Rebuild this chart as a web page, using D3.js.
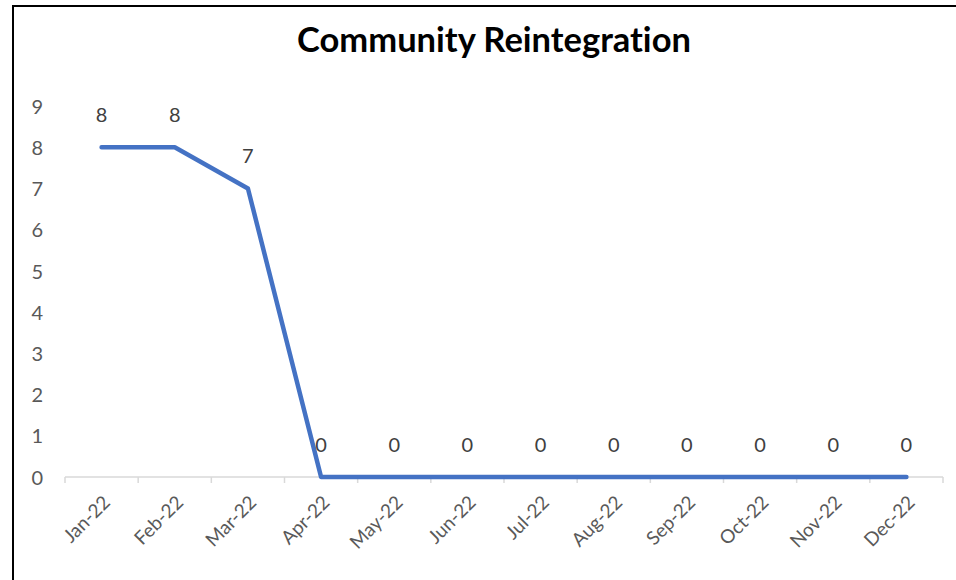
<!DOCTYPE html>
<html><head><meta charset="utf-8">
<script src="https://cdn.jsdelivr.net/npm/d3@7"></script>
<style>body{margin:0;background:#fff}svg{display:block}text{font-variant-ligatures:none;font-feature-settings:"liga" 0}</style>
</head><body>
<svg id="c" width="956" height="580"></svg>
<script>
const title = "Community Reintegration";
const categories = ["Jan-22","Feb-22","Mar-22","Apr-22","May-22","Jun-22","Jul-22","Aug-22","Sep-22","Oct-22","Nov-22","Dec-22"];
const values = [8,8,7,0,0,0,0,0,0,0,0,0];
const yTicks = [0,1,2,3,4,5,6,7,8,9];

const svg = d3.select("#c");
const font = "Lato, 'Open Sans', 'Liberation Sans', sans-serif";
const W = 956, H = 580;
const m = {left:65, right:W-943, top:106, bottom:H-477};

// border
svg.append("rect").attr("x",13).attr("y",6).attr("width",W).attr("height",H)
  .attr("fill","#fff").attr("stroke","#000").attr("stroke-width",2);

const x = d3.scaleBand().domain(categories).range([m.left, W-m.right]).padding(0);
const y = d3.scaleLinear().domain([0,9]).range([H-m.bottom, m.top]);

// title
const t = svg.append("text").attr("x",(297+691)/2).attr("y",52).attr("text-anchor","middle")
  .attr("font-family",font).attr("font-weight","bold").attr("font-size",26).attr("fill","#000").text(title);
const tw = t.node().getComputedTextLength();
t.attr("font-size", 26*394/tw);

// y axis labels
const yAxis = d3.axisLeft(y).tickValues(yTicks).tickSize(0).tickPadding(0).tickFormat(d3.format("d"));
const yg = svg.append("g").attr("transform",`translate(43,0)`).call(yAxis);
yg.select(".domain").remove();
yg.selectAll("text").attr("font-family",font).attr("font-size",20).attr("fill","#595959").attr("dy","0.36em");

// x axis
const xg = svg.append("g").attr("transform",`translate(0,${H-m.bottom})`);
xg.append("line").attr("x1",m.left).attr("x2",W-m.right).attr("stroke","#d9d9d9").attr("stroke-width",1.5);
const bounds = categories.map(c=>x(c)).concat([x(categories[categories.length-1])+x.bandwidth()]);
xg.selectAll("line.tk").data(bounds).enter().append("line").attr("class","tk")
  .attr("x1",d=>d).attr("x2",d=>d).attr("y1",0).attr("y2",6).attr("stroke","#d9d9d9").attr("stroke-width",1.5);
xg.selectAll("text.xl").data(categories).enter().append("text").attr("class","xl")
  .attr("transform",d=>`translate(${x(d)+x.bandwidth()/2+5},${22}) rotate(-45)`)
  .attr("text-anchor","end").attr("dy","0.35em")
  .attr("font-family",font).attr("font-size",19).attr("fill","#595959").text(d=>d);

// line
const line = d3.line().x((d,i)=>x(categories[i])+x.bandwidth()/2).y(d=>y(d));
svg.append("path").datum(values).attr("d",line).attr("fill","none")
  .attr("stroke","#4472C4").attr("stroke-width",4.5).attr("stroke-linecap","round").attr("stroke-linejoin","round");

// data labels
svg.selectAll("text.dl").data(values).enter().append("text").attr("class","dl")
  .attr("x",(d,i)=>x(categories[i])+x.bandwidth()/2).attr("y",d=>y(d)-25)
  .attr("text-anchor","middle").attr("font-family",font).attr("font-size",20).attr("fill","#404040").text(d=>d);
</script>
</body></html>
